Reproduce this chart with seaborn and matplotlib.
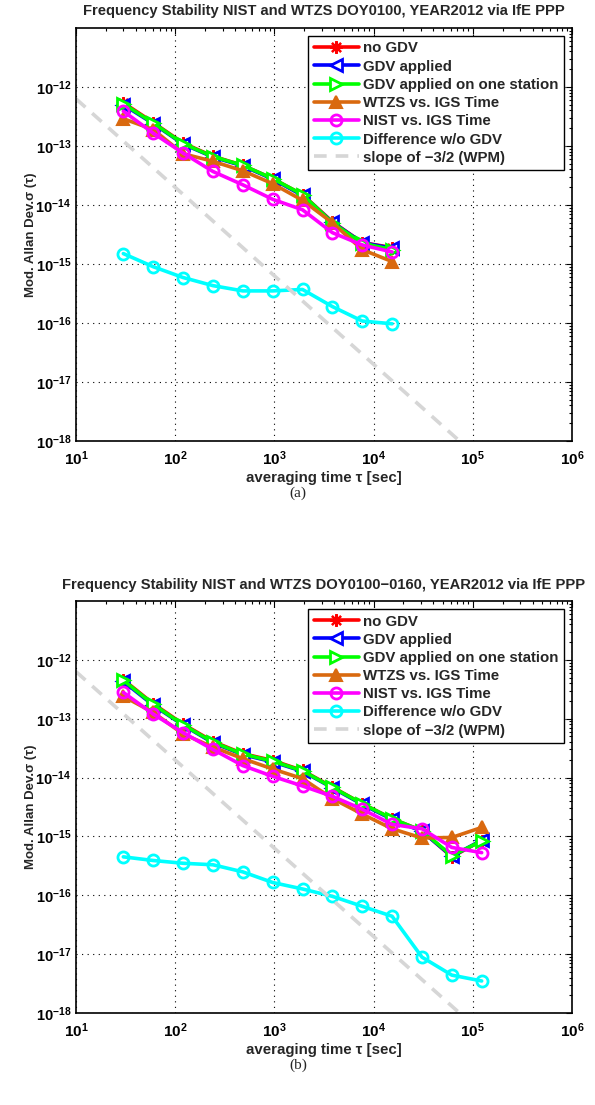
import numpy as np
import pandas as pd
import matplotlib
matplotlib.use("Agg")
import matplotlib.pyplot as plt
from matplotlib.ticker import LogLocator, LogFormatterMathtext, NullFormatter
import seaborn as sns

# averaging times [s]
tau_a = [30, 60, 120, 240, 480, 960, 1920, 3840, 7680, 15360]
tau_b = [30, 60, 120, 240, 480, 960, 1920, 3840, 7680, 15360, 30720, 61440, 122880]

# (a) DOY0100
a_no_gdv = [5.4e-13, 2.5e-13, 1.12e-13, 6.7e-14, 4.7e-14, 2.8e-14, 1.5e-14, 5.2e-15, 2.3e-15, 1.9e-15]
a_gdv = [5.0e-13, 2.4e-13, 1.08e-13, 6.5e-14, 4.6e-14, 2.75e-14, 1.45e-14, 5.1e-15, 2.3e-15, 1.85e-15]
a_gdv_one = [5.2e-13, 2.45e-13, 1.1e-13, 6.6e-14, 4.7e-14, 2.8e-14, 1.5e-14, 5.0e-15, 2.25e-15, 1.75e-15]
a_wtzs = [2.9e-13, 1.9e-13, 7.4e-14, 5.5e-14, 3.8e-14, 2.3e-14, 1.2e-14, 5.0e-15, 1.75e-15, 1.1e-15]
a_nist = [3.9e-13, 1.65e-13, 7.6e-14, 3.7e-14, 2.2e-14, 1.25e-14, 8.3e-15, 3.4e-15, 2.1e-15, 1.6e-15]
a_diff = [1.5e-15, 9.0e-16, 5.9e-16, 4.3e-16, 3.5e-16, 3.5e-16, 3.7e-16, 1.9e-16, 1.08e-16, 9.7e-17]

# (b) DOY0100-0160
b_no_gdv = [4.6e-13, 1.8e-13, 8.1e-14, 4.1e-14, 2.55e-14, 1.95e-14, 1.32e-14, 6.9e-15, 3.6e-15, 2.0e-15, 1.25e-15, 4.5e-16, 8.5e-16]
b_gdv = [4.3e-13, 1.7e-13, 7.8e-14, 3.9e-14, 2.45e-14, 1.85e-14, 1.28e-14, 6.7e-15, 3.5e-15, 1.95e-15, 1.22e-15, 4.6e-16, 8.6e-16]
b_gdv_one = [4.5e-13, 1.75e-13, 7.9e-14, 4.0e-14, 2.5e-14, 1.9e-14, 1.3e-14, 6.8e-15, 3.6e-15, 2.0e-15, 1.25e-15, 4.7e-16, 8.4e-16]
b_wtzs = [2.4e-13, 1.28e-13, 5.5e-14, 3.3e-14, 2.1e-14, 1.4e-14, 9.6e-15, 4.4e-15, 2.4e-15, 1.35e-15, 9.4e-16, 9.6e-16, 1.42e-15]
b_nist = [2.8e-13, 1.2e-13, 5.8e-14, 3.0e-14, 1.6e-14, 1.05e-14, 7.2e-15, 4.8e-15, 2.9e-15, 1.6e-15, 1.35e-15, 6.5e-16, 5.3e-16]
b_diff = [4.5e-16, 3.9e-16, 3.5e-16, 3.3e-16, 2.5e-16, 1.65e-16, 1.28e-16, 9.6e-17, 6.5e-17, 4.4e-17, 8.9e-18, 4.4e-18, 3.5e-18]

# white phase modulation reference line, slope -3/2
wpm_tau = [10, 100000]
wpm_val = [6.3e-13, 6.3e-19]

labels = ["no GDV", "GDV applied", "GDV applied on one station",
          "WTZS vs. IGS Time", "NIST vs. IGS Time", "Difference w/o GDV",
          "slope of \u22123/2 (WPM)"]
titles = ["Frequency Stability NIST and WTZS DOY0100, YEAR2012 via IfE PPP",
          "Frequency Stability NIST and WTZS DOY0100\u22120160, YEAR2012 via IfE PPP"]
captions = ["(a)", "(b)"]

sns.set_theme(style="white")
plt.rcParams["font.family"] = ["Liberation Sans", "DejaVu Sans"]
plt.rcParams["font.weight"] = "bold"
plt.rcParams["mathtext.fontset"] = "custom"
plt.rcParams["mathtext.rm"] = "Liberation Sans:bold"
plt.rcParams["mathtext.bf"] = "Liberation Sans:bold"
plt.rcParams["mathtext.it"] = "Liberation Sans:bold:italic"
plt.rcParams["mathtext.default"] = "bf"

ORANGE = "#d9690f"
COLORS = ["#ff0000", "#0000ff", "#00ff00", ORANGE, "#ff00ff", "#00ffff"]
styles = [
    dict(marker=(8, 2, 0), markersize=9, markeredgewidth=1.6),
    dict(marker="<", markersize=8, markeredgewidth=2, markerfacecolor="white"),
    dict(marker=">", markersize=8, markeredgewidth=2, markerfacecolor="white"),
    dict(marker="^", markersize=9, markeredgewidth=1.5, markerfacecolor=ORANGE),
    dict(marker="o", markersize=8, markeredgewidth=2, markerfacecolor="none"),
    dict(marker="o", markersize=8, markeredgewidth=2, markerfacecolor="none"),
]

W, H = 595, 1105
fig = plt.figure(figsize=(W / 100, H / 100), dpi=100)
ax_a = fig.add_axes([76 / W, 1 - 441 / H, 496 / W, 413 / H])
ax_b = fig.add_axes([76 / W, 1 - 1013 / H, 496 / W, 412 / H])

panels = [
    (ax_a, tau_a, [a_no_gdv, a_gdv, a_gdv_one, a_wtzs, a_nist, a_diff]),
    (ax_b, tau_b, [b_no_gdv, b_gdv, b_gdv_one, b_wtzs, b_nist, b_diff]),
]

for i, (ax, tau, series) in enumerate(panels):
    for vals, lab, col, st in zip(series, labels, COLORS, styles):
        df = pd.DataFrame({"tau": tau, "adev": vals})
        sns.lineplot(data=df, x="tau", y="adev", ax=ax, label=lab,
                     color=col, markeredgecolor=col, linewidth=2.6,
                     estimator=None, sort=False, **st)
    wdf = pd.DataFrame({"tau": wpm_tau, "adev": wpm_val})
    sns.lineplot(data=wdf, x="tau", y="adev", ax=ax, label=labels[-1],
                 color="#d6d6d6", linewidth=2.6, linestyle=(0, (3.5, 2.5)),
                 estimator=None, sort=False)

    ax.set_xscale("log")
    ax.set_yscale("log")
    ax.set_xlim(10, 1e6)
    ax.set_ylim(1e-18, 1e-11)
    ax.xaxis.set_major_locator(LogLocator(base=10, numticks=10))
    ax.set_yticks([10.0 ** k for k in range(-18, -11)])
    ax.xaxis.set_major_formatter(LogFormatterMathtext())
    ax.yaxis.set_major_formatter(LogFormatterMathtext())
    ax.xaxis.set_minor_locator(LogLocator(base=10, subs=np.arange(2, 10), numticks=20))
    ax.yaxis.set_minor_locator(LogLocator(base=10, subs=np.arange(2, 10), numticks=20))
    ax.xaxis.set_minor_formatter(NullFormatter())
    ax.yaxis.set_minor_formatter(NullFormatter())
    ax.tick_params(which="both", direction="in", top=True, right=True,
                   colors="black", width=0.8)
    ax.tick_params(axis="x", which="major", labelsize=11, pad=6)
    ax.tick_params(axis="y", which="major", labelsize=10.5)
    ax.tick_params(which="major", length=4)
    ax.tick_params(which="minor", length=2.2)
    ax.grid(True, which="major", color="black", linestyle=(0, (1, 4)), linewidth=0.8)
    for sp in ax.spines.values():
        sp.set_visible(True)
        sp.set_color("black")
        sp.set_linewidth(1.2)

    ax.set_title(titles[i], fontsize=10.6, fontweight="bold", pad=9)
    ax.set_xlabel("averaging time \u03c4 [sec]", fontsize=10.8, fontweight="bold", labelpad=2)
    ax.set_ylabel("Mod. Allan Dev.\u03c3 (\u03c4)", fontsize=9.5, fontweight="bold", labelpad=-1)

    leg = ax.legend(loc="upper right", fontsize=10.8, frameon=True, fancybox=False,
                    handlelength=3.0, handletextpad=0.3, labelspacing=0.28,
                    borderpad=0.35, borderaxespad=0.55, framealpha=1)
    leg.get_frame().set_edgecolor("black")
    leg.get_frame().set_linewidth(1.0)
    for t in leg.get_texts():
        t.set_fontweight("bold")

fig.text(298 / W, 1 - 493 / H, captions[0], ha="center", va="center",
         fontsize=11, fontweight="normal", family="Liberation Serif")
fig.text(298 / W, 1 - 1065 / H, captions[1], ha="center", va="center",
         fontsize=11, fontweight="normal", family="Liberation Serif")

fig.savefig("out.png", dpi=100)
